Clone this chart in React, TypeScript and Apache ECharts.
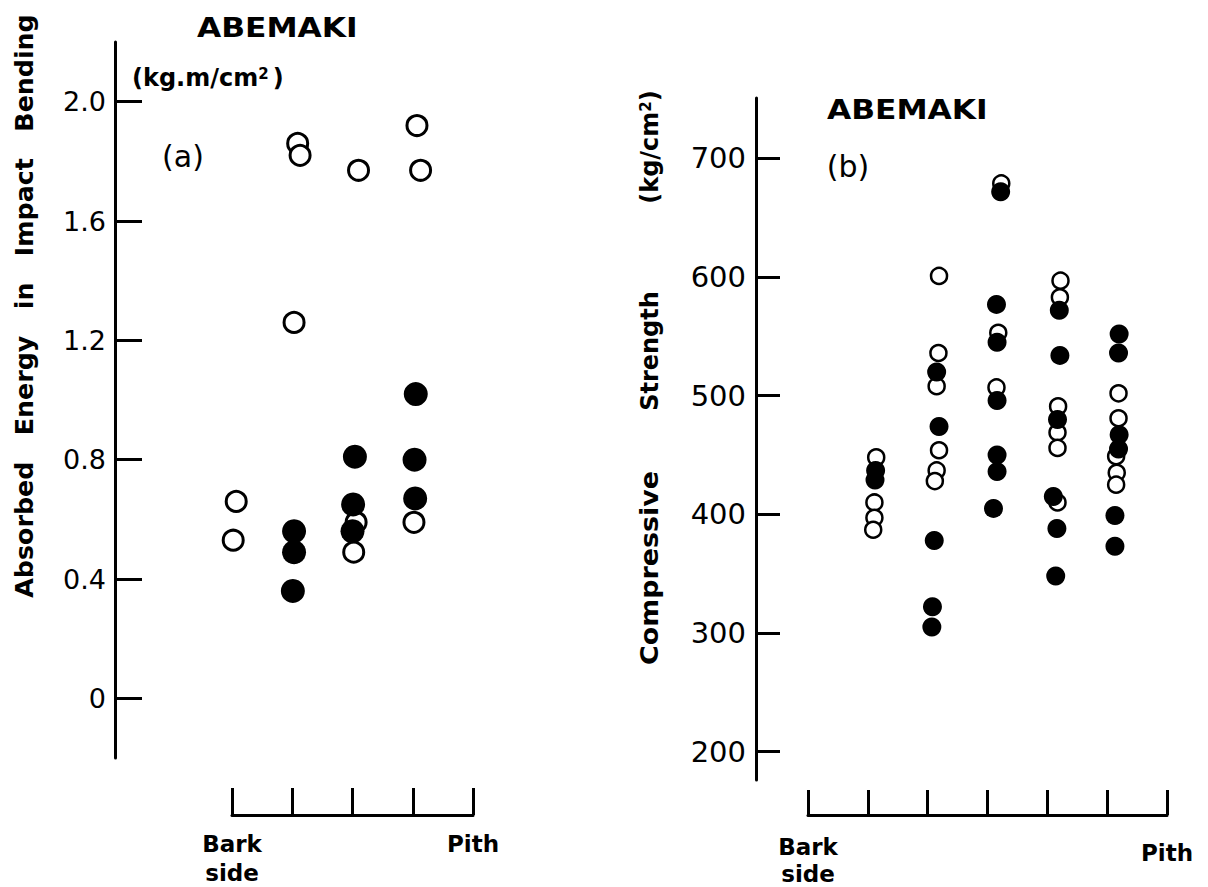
import React, { useEffect, useRef } from "react";
import * as echarts from "echarts";

// ---- Panel (a): Absorbed energy in impact bending (kg.m/cm2) ----
const leftOpenX = [0.07, 0.02, 1.09, 1.13, 1.03, 2.10, 2.06, 2.02, 3.07, 3.13, 3.02];
const leftOpenY = [0.66, 0.53, 1.86, 1.82, 1.26, 1.77, 0.59, 0.49, 1.92, 1.77, 0.59];
const leftFilledX = [1.03, 1.03, 1.01, 2.04, 2.01, 2.0, 3.05, 3.03, 3.04];
const leftFilledY = [0.56, 0.49, 0.36, 0.81, 0.65, 0.56, 1.02, 0.8, 0.67];
const leftYTicks = [0, 0.4, 0.8, 1.2, 1.6, 2.0];
const leftYLabels = ["0", "0.4", "0.8", "1.2", "1.6", "2.0"];

// ---- Panel (b): Compressive strength (kg/cm2) ----
const rightOpenX = [1.14, 1.11, 1.11, 1.09, 2.19, 2.18, 2.15, 2.19, 2.15, 2.12, 3.23, 3.18, 3.15, 4.22, 4.21, 4.18, 4.17, 4.17, 4.17, 5.19, 5.19, 5.15, 5.16, 5.15];
const rightOpenY = [448, 410, 397, 387, 601, 536, 508, 454, 437, 428, 679, 553, 507, 597, 583, 491, 469, 456, 410, 502, 481, 449, 435, 425];
const rightFilledX = [1.13, 1.12, 2.15, 2.19, 2.11, 2.08, 2.07, 3.22, 3.15, 3.16, 3.16, 3.16, 3.16, 3.1, 4.2, 4.21, 4.17, 4.1, 4.16, 4.14, 5.2, 5.19, 5.2, 5.19, 5.13, 5.13];
const rightFilledY = [437, 429, 520, 474, 378, 322, 305, 672, 577, 545, 496, 450, 436, 405, 572, 534, 480, 415, 388, 348, 552, 536, 467, 455, 399, 373];
const rightYTicks = [200, 300, 400, 500, 600, 700];

const species = "ABEMAKI";
const FONT = "DejaVu Sans";

const zip = (xs: number[], ys: number[]) => xs.map((x, i) => [x, ys[i]]);

export default function App() {
  const ref = useRef<HTMLDivElement>(null);
  useEffect(() => {
    if (!ref.current) return;
    const chart = echarts.init(ref.current, null, { renderer: "svg" });
    const axisLine = { show: true, onZero: false, lineStyle: { color: "#000", width: 3 } };
    const xLabelFmt = (last: number) => (v: number) =>
      v === 0 ? "Bark\nside" : v === last ? "{p|Pith}" : "";
    const xLabelStyle = (pithPad: number) => ({
      color: "#000", fontFamily: FONT, fontWeight: "bold", fontSize: 23,
      rich: { p: { fontFamily: FONT, fontWeight: "bold", fontSize: 23, color: "#000", padding: [pithPad, 0, 0, 0] } },
    });
    chart.setOption({
      animation: false,
      backgroundColor: "#fff",
      grid: [
        { left: 232, top: 42, width: 241, height: 716 },
        { left: 808, top: 98, width: 359, height: 682 },
      ],
      xAxis: [
        {
          gridIndex: 0, type: "value", min: 0, max: 4, interval: 1, offset: 57,
          axisLine, splitLine: { show: false },
          axisTick: { show: true, inside: true, length: 27, lineStyle: { color: "#000", width: 3 } },
          axisLabel: {
            formatter: xLabelFmt(4), ...xLabelStyle(0),
            lineHeight: 29, margin: 14, verticalAlign: "top", showMinLabel: true, showMaxLabel: true,
          },
        },
        {
          gridIndex: 1, type: "value", min: 0, max: 6, interval: 1, offset: 35,
          axisLine, splitLine: { show: false },
          axisTick: { show: true, inside: true, length: 25, lineStyle: { color: "#000", width: 3 } },
          axisLabel: {
            formatter: xLabelFmt(6), ...xLabelStyle(12),
            lineHeight: 27, margin: 18, verticalAlign: "top", showMinLabel: true, showMaxLabel: true,
          },
        },
      ],
      yAxis: [
        {
          gridIndex: 0, type: "value", min: -0.2, max: 2.2, offset: 117,
          axisLine, splitLine: { show: false },
          axisTick: { show: true, inside: true, length: 27, customValues: leftYTicks, lineStyle: { color: "#000", width: 3 } },
          axisLabel: {
            customValues: leftYTicks,
            formatter: (v: number) => leftYLabels[leftYTicks.findIndex((t) => Math.abs(t - v) < 1e-6)] ?? "",
            color: "#000", fontFamily: FONT, fontSize: 27, margin: 9,
          },
        },
        {
          gridIndex: 1, type: "value", min: 176, max: 751, offset: 52,
          axisLine, splitLine: { show: false },
          axisTick: { show: true, inside: true, length: 24, customValues: rightYTicks, lineStyle: { color: "#000", width: 3 } },
          axisLabel: { customValues: rightYTicks, color: "#000", fontFamily: FONT, fontSize: 29, margin: 10 },
        },
      ],
      series: [
        {
          type: "scatter", xAxisIndex: 0, yAxisIndex: 0, data: zip(leftOpenX, leftOpenY),
          symbol: "circle", symbolSize: 20, itemStyle: { color: "#fff", borderColor: "#000", borderWidth: 3, opacity: 1 },
        },
        {
          type: "scatter", xAxisIndex: 0, yAxisIndex: 0, data: zip(leftFilledX, leftFilledY),
          symbol: "circle", symbolSize: 24, itemStyle: { color: "#000", opacity: 1 },
        },
        {
          type: "scatter", xAxisIndex: 1, yAxisIndex: 1, data: zip(rightOpenX, rightOpenY),
          symbol: "circle", symbolSize: 16, itemStyle: { color: "#fff", borderColor: "#000", borderWidth: 2.5, opacity: 1 },
        },
        {
          type: "scatter", xAxisIndex: 1, yAxisIndex: 1, data: zip(rightFilledX, rightFilledY),
          symbol: "circle", symbolSize: 19, itemStyle: { color: "#000", opacity: 1 },
        },
      ],
      graphic: [
        {
          type: "text", x: 197, y: 14, scaleX: 1.16,
          style: { text: species, font: `bold 27px '${FONT}'`, fill: "#000", textAlign: "left", textVerticalAlign: "top" },
        },
        {
          type: "text", x: 827, y: 96, scaleX: 1.16,
          style: { text: species, font: `bold 27px '${FONT}'`, fill: "#000", textAlign: "left", textVerticalAlign: "top" },
        },
        {
          type: "text", x: 132, y: 78,
          style: {
            text: "{a|(kg.m/cm}{s|2}{a|)}", fill: "#000", textAlign: "left", textVerticalAlign: "middle",
            rich: {
              a: { font: `bold 24px '${FONT}'`, fill: "#000" },
              s: { font: `bold 15px '${FONT}'`, fill: "#000", verticalAlign: "top", padding: [0, 4, 0, 0] },
            },
          },
        },
        {
          type: "text", x: 183, y: 156,
          style: { text: "(a)", font: `30px '${FONT}'`, fill: "#000", textAlign: "center", textVerticalAlign: "middle" },
        },
        {
          type: "text", x: 848, y: 166,
          style: { text: "(b)", font: `30px '${FONT}'`, fill: "#000", textAlign: "center", textVerticalAlign: "middle" },
        },
        {
          type: "text", x: 25, y: 306, rotation: Math.PI / 2, scaleX: 1.055,
          style: {
            text: "Absorbed   Energy   in   Impact   Bending", font: `bold 24px '${FONT}'`, fill: "#000",
            textAlign: "center", textVerticalAlign: "middle",
          },
        },
        {
          type: "text", x: 650, y: 568, rotation: Math.PI / 2, scaleX: 1.12,
          style: { text: "Compressive", font: `bold 24px '${FONT}'`, fill: "#000", textAlign: "center", textVerticalAlign: "middle" },
        },
        {
          type: "text", x: 650, y: 351, rotation: Math.PI / 2,
          style: { text: "Strength", font: `bold 24px '${FONT}'`, fill: "#000", textAlign: "center", textVerticalAlign: "middle" },
        },
        {
          type: "text", x: 650, y: 147, rotation: Math.PI / 2,
          style: {
            text: "{a|(kg/cm}{s|2}{a|)}", fill: "#000", textAlign: "center", textVerticalAlign: "middle",
            rich: {
              a: { font: `bold 24px '${FONT}'`, fill: "#000" },
              s: { font: `bold 15px '${FONT}'`, fill: "#000", verticalAlign: "top" },
            },
          },
        },
      ],
    });
    return () => chart.dispose();
  }, []);
  return (
    <div
      ref={ref}
      style={{ position: "absolute", left: 0, top: 0, width: 1208, height: 887, background: "#fff" }}
    />
  );
}
